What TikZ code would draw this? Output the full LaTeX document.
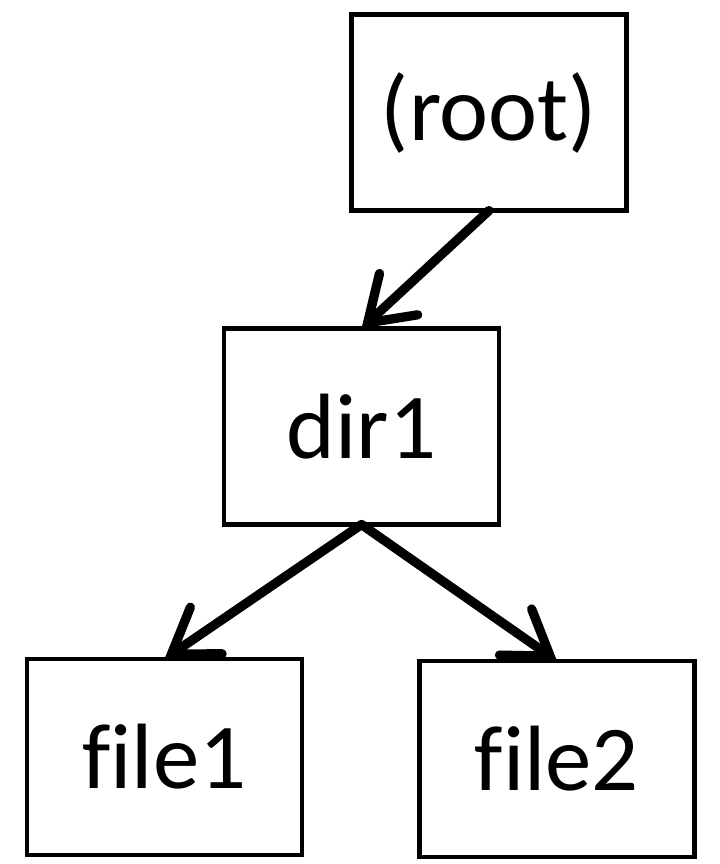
\documentclass[tikz,border=0pt]{standalone}
\usepackage{fontspec}
\setmainfont{Carlito}[Ligatures = NoCommon]
\usepackage{tikz,tkz-graph}
\usetikzlibrary{arrows.meta}
\tikzstyle{labeledBox}=[shape = rectangle, minimum width = 6.875cm, minimum height = 4.9cm, inner sep = 0pt, line width = 3.1pt, draw, font = \fontsize{66}{78}\selectfont]
\tikzstyle{treeArrow}=[line width = 6.6pt, line cap = round, -{Straight Barb[length = 30pt, width = 40pt, line cap = round]}]

\begin{document}
\begin{tikzpicture}[x = 0.025cm, y = -0.025cm]
\tikzstyle{VertexStyle} = []
\useasboundingbox (0,0) rectangle (720,864);
\Vertex[style = labeledBox, x = 489, y = 112.5, L = {(root)}]{root}
\Vertex[style = labeledBox, x = 361.5, y = 426.5, L = {dir1}]{dir1}
\Vertex[style = labeledBox, x = 164.5, y = 757, L = {file1}]{file1}
\Vertex[style = labeledBox, x = 557, y = 759, L = {file2}]{file2}
\draw[treeArrow] (root.south) -- (dir1.north);
\draw[treeArrow] (dir1.south) -- (file1.north);
\draw[treeArrow] (dir1.south) -- (file2.north);
\end{tikzpicture}
\end{document}
